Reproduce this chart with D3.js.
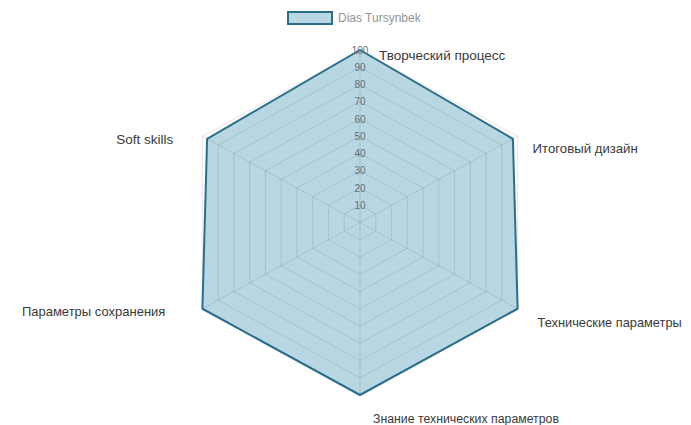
<!DOCTYPE html>
<html>
<head>
  <meta charset="utf-8">
  <title>Radar</title>
  <style>
    body { margin: 0; background: #fff; }
    svg { display: block; font-family: "Liberation Sans", Arial, sans-serif; }
  </style>
</head>
<body>
  <svg width="691" height="425"></svg>
  <script src="https://cdn.jsdelivr.net/npm/d3@7"></script>
  <script>
    // данные
    const categories = ['Творческий процесс', 'Итоговый дизайн', 'Технические параметры',
                        'Знание технических параметров', 'Параметры сохранения', 'Soft skills'];
    const values = [100, 97, 100, 100, 100, 97];
    const seriesName = 'Dias Tursynbek';
    const ticks = [10, 20, 30, 40, 50, 60, 70, 80, 90, 100];

    const svg = d3.select('svg');
    const cx = 360, cy = 222.5;
    const fill = 'rgba(125, 182, 202, 0.55)';
    const stroke = '#2b6e8c';

    // радиусы по x и y немного отличаются (картинка чуть растянута)
    const rx = d3.scaleLinear().domain([0, 100]).range([0, 182]);
    const ry = d3.scaleLinear().domain([0, 100]).range([0, 172.5]);
    const angle = d3.scalePoint().domain(d3.range(categories.length + 1)).range([0, 2 * Math.PI]);

    const pt = (i, v) => {
      const a = angle(i);
      return [cx + rx(v) * Math.sin(a), cy - ry(v) * Math.cos(a)];
    };

    // заливка данных
    const dataPts = values.map((v, i) => pt(i, v));
    svg.append('polygon')
       .attr('points', dataPts.map(p => p.join(',')).join(' '))
       .attr('fill', fill);

    // сетка
    const grid = svg.append('g')
                    .attr('fill', 'none')
                    .attr('stroke', 'rgba(0,0,0,0.1)')
                    .attr('stroke-width', 1);
    grid.selectAll('polygon')
        .data(ticks)
        .enter().append('polygon')
        .attr('points', t => categories.map((c, i) => pt(i, t).join(',')).join(' '));
    grid.selectAll('line')
        .data(categories)
        .enter().append('line')
        .attr('x1', cx).attr('y1', cy)
        .attr('x2', (d, i) => pt(i, 100)[0])
        .attr('y2', (d, i) => pt(i, 100)[1]);

    // линия данных
    svg.append('polygon')
       .attr('points', dataPts.map(p => p.join(',')).join(' '))
       .attr('fill', 'none')
       .attr('stroke', stroke)
       .attr('stroke-width', 2)
       .attr('stroke-linejoin', 'round');

    // подписи шкалы
    svg.append('g').selectAll('text')
       .data(ticks)
       .enter().append('text')
       .attr('x', cx)
       .attr('y', t => cy - ry(t))
       .attr('dy', '0.35em')
       .attr('text-anchor', 'middle')
       .attr('font-size', 10)
       .attr('fill', '#5f7078')
       .text(t => t);

    // подписи осей: смещение от вершины и выравнивание
    const labelPlace = [
      {dx: 19, dy: 10, anchor: 'start', size: 13.5},
      {dx: 15, dy: 17, anchor: 'start', size: 13.2},
      {dx: 20, dy: 18, anchor: 'start', size: 12.8},
      {dx: 13, dy: 28, anchor: 'start', size: 12.3},
      {dx: -37, dy: 7, anchor: 'end', size: 13},
      {dx: -29, dy: 8, anchor: 'end', size: 13.5}
    ];
    svg.append('g').selectAll('text')
       .data(categories)
       .enter().append('text')
       .attr('x', (d, i) => pt(i, 100)[0] + labelPlace[i].dx)
       .attr('y', (d, i) => pt(i, 100)[1] + labelPlace[i].dy)
       .attr('text-anchor', (d, i) => labelPlace[i].anchor)
       .attr('font-size', (d, i) => labelPlace[i].size)
       .attr('fill', '#3a3a3a')
       .text(d => d);

    // легенда
    const legend = svg.append('g').attr('transform', 'translate(288,12)');
    legend.append('rect')
          .attr('width', 44).attr('height', 12)
          .attr('fill', fill)
          .attr('stroke', stroke)
          .attr('stroke-width', 2);
    legend.append('text')
          .attr('x', 50).attr('y', 6)
          .attr('dy', '0.35em')
          .attr('font-size', 12)
          .attr('fill', '#939393')
          .text(seriesName);
  </script>
</body>
</html>
